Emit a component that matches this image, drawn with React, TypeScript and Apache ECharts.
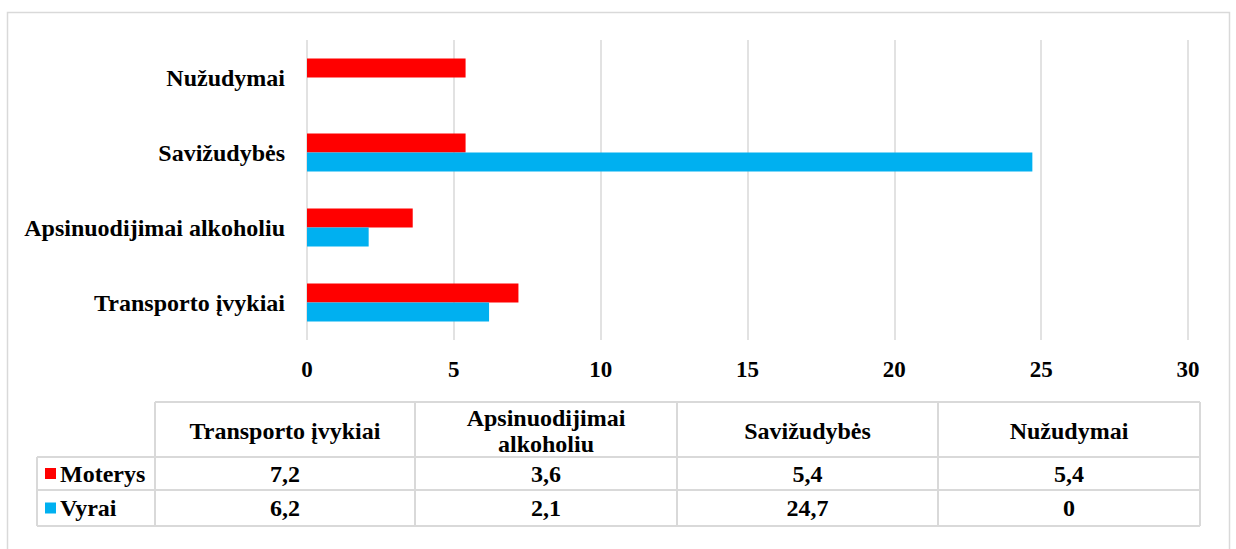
import React, { useEffect, useRef } from "react";
import * as echarts from "echarts";

const categories = ["Transporto įvykiai", "Apsinuodijimai alkoholiu", "Savižudybės", "Nužudymai"];
const tableHeaders = ["Transporto įvykiai", "Apsinuodijimai\nalkoholiu", "Savižudybės", "Nužudymai"];
const moterys = [7.2, 3.6, 5.4, 5.4];
const vyrai = [6.2, 2.1, 24.7, 0];
const seriesNames = ["Moterys", "Vyrai"];
const colors = ["#FF0000", "#00B0F0"];

const FONT = "Liberation Serif";

export default function App() {
  const ref = useRef<HTMLDivElement>(null);
  useEffect(() => {
    document.body.style.margin = "0";
    const chart = echarts.init(ref.current!, null, { renderer: "svg" });

    const colX = [37, 155, 415, 677, 938, 1200];
    const rowY = [402, 457, 490, 526];
    const lineStyle = { stroke: "#D9D9D9", lineWidth: 2 };
    const graphics: any[] = [];
    graphics.push({ type: "rect", shape: { x: 7.5, y: 12.5, width: 1222, height: 560 }, style: { fill: "none", stroke: "#D9D9D9", lineWidth: 1.5 }, silent: true });
    graphics.push({ type: "line", shape: { x1: colX[1], y1: rowY[0], x2: colX[5], y2: rowY[0] }, style: lineStyle });
    for (let r = 1; r < rowY.length; r++) {
      graphics.push({ type: "line", shape: { x1: colX[0], y1: rowY[r], x2: colX[5], y2: rowY[r] }, style: lineStyle });
    }
    graphics.push({ type: "line", shape: { x1: colX[0], y1: rowY[1], x2: colX[0], y2: rowY[3] }, style: lineStyle });
    for (let c = 1; c < colX.length; c++) {
      graphics.push({ type: "line", shape: { x1: colX[c], y1: rowY[0], x2: colX[c], y2: rowY[3] }, style: lineStyle });
    }
    const textEl = (x: number, y: number, text: string) => ({
      type: "text",
      x,
      y,
      style: { text, fill: "#000", font: `bold 24px ${FONT}`, align: "center", verticalAlign: "middle", lineHeight: 26 },
    });
    tableHeaders.forEach((h, i) => {
      const cx = (colX[i + 1] + colX[i + 2]) / 2;
      graphics.push(textEl(cx, (rowY[0] + rowY[1]) / 2 + 1, h));
    });
    const rows = [moterys, vyrai];
    rows.forEach((vals, r) => {
      const cy = (rowY[r + 1] + rowY[r + 2]) / 2;
      vals.forEach((v, i) => {
        const cx = (colX[i + 1] + colX[i + 2]) / 2;
        graphics.push(textEl(cx, cy, String(v).replace(".", ",")));
      });
      graphics.push({ type: "rect", shape: { x: 45, y: cy - 5.5, width: 11, height: 11 }, style: { fill: colors[r] } });
      graphics.push({
        type: "text",
        x: 60,
        y: cy,
        style: { text: seriesNames[r], fill: "#000", font: `bold 24px ${FONT}`, align: "left", verticalAlign: "middle" },
      });
    });

    chart.setOption({
      animation: false,
      grid: { left: 307, right: 48, top: 40, height: 300, containLabel: false },
      xAxis: {
        type: "value",
        min: 0,
        max: 30,
        interval: 5,
        axisLine: { show: false },
        axisTick: { show: false },
        splitLine: { lineStyle: { color: "#D9D9D9", width: 1.5 } },
        axisLabel: { color: "#000", fontFamily: FONT, fontWeight: "bold", fontSize: 23, margin: 18 },
      },
      yAxis: {
        type: "category",
        data: categories,
        axisLine: { show: false },
        axisTick: { show: false },
        axisLabel: { color: "#000", fontFamily: FONT, fontWeight: "bold", fontSize: 24, margin: 22 },
      },
      series: [
        { name: "Moterys", type: "bar", data: moterys, itemStyle: { color: colors[0] }, barWidth: 19, barGap: "0%" },
        { name: "Vyrai", type: "bar", data: vyrai, itemStyle: { color: colors[1] }, barWidth: 19, barGap: "0%" },
      ],
      graphic: graphics,
    });
    return () => chart.dispose();
  }, []);
  return <div ref={ref} style={{ width: 1236, height: 549 }} />;
}
